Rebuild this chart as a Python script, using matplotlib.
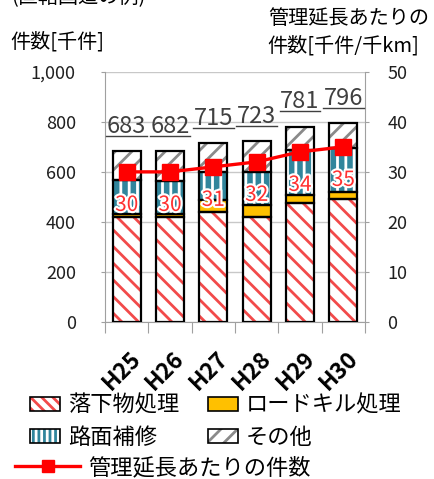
import matplotlib
matplotlib.use("Agg")
import matplotlib.pyplot as plt
import matplotlib.patheffects as pe
from matplotlib.patches import Patch
from matplotlib.lines import Line2D

plt.rcParams['font.family'] = ['Noto Sans CJK JP', 'DejaVu Sans']
plt.rcParams['hatch.linewidth'] = 2.0

# データ
years = ['H25', 'H26', 'H27', 'H28', 'H29', 'H30']
rakka = [420, 418, 440, 420, 477, 492]      # 落下物処理
roadkill = [12, 14, 48, 48, 31, 28]         # ロードキル処理
romen = [136, 132, 113, 132, 180, 176]      # 路面補修
sonota = [115, 118, 114, 123, 93, 100]      # その他
totals = [683, 682, 715, 723, 781, 796]
per_km = [30, 30, 31, 32, 34, 35]           # 管理延長あたりの件数

red_c = '#f24a4a'
yel_c = '#ffc000'
blu_c = '#31859c'
gry_c = '#8a8a8a'

fig = plt.figure(figsize=(4.34, 4.79), dpi=100)
ax = fig.add_axes([0.242, 0.328, 0.599, 0.522])
x = list(range(len(years)))
w = 0.65

# (値, 面の色, ハッチ色, ハッチ)
series = [
    (rakka, 'white', red_c, '\\\\'),
    (roadkill, yel_c, yel_c, ''),
    (romen, blu_c, 'white', '||'),
    (sonota, 'white', gry_c, '//'),
]
bottom = [0] * len(years)
for vals, face, hcol, hatch in series:
    ax.bar(x, vals, w, bottom=bottom, color=face, edgecolor=hcol, hatch=hatch,
           linewidth=0, zorder=2)
    ax.bar(x, vals, w, bottom=bottom, fill=False, edgecolor='black',
           linewidth=1.6, zorder=3)
    bottom = [b + v for b, v in zip(bottom, vals)]

# 合計ラベル（下線付き）
for i, t in enumerate(totals):
    ax.annotate(str(t), xy=(i, t + 61), xytext=(0, 3), textcoords='offset pixels',
                ha='center', va='baseline', fontsize=17, color='#404040', zorder=5)
    ax.plot([i - 0.47, i + 0.47], [t + 61] * 2, color='#404040', lw=1.0,
            zorder=5, clip_on=False)

ax.set_xlim(-0.5, 5.5)
ax.set_ylim(0, 1000)
ax.set_yticks(range(0, 1001, 200))
ax.set_yticklabels(['0', '200', '400', '600', '800', '1,000'], fontsize=13)
ax.tick_params(axis='y', length=3, pad=18, color='#a0a0a0', labelcolor='#202020')
ax.set_xticks([i - 0.5 for i in range(7)])
ax.set_xticklabels([])
ax.tick_params(axis='x', length=8, color='#a0a0a0')
ax.grid(axis='y', color='#c8c8c8', lw=1)
ax.set_axisbelow(True)
for s in ax.spines.values():
    s.set_color('#a0a0a0')
ax.spines['top'].set_visible(False)

for i, lab in enumerate(years):
    ax.annotate(lab, xy=(i, 0), xycoords=('data', 'axes fraction'),
                xytext=(3, -25), textcoords='offset pixels', rotation=45,
                ha='right', va='top', rotation_mode='anchor',
                fontsize=16.5, fontweight='bold', color='black')

ax2 = ax.twinx()
ax2.set_ylim(0, 50)
ax2.set_yticks(range(0, 51, 10))
ax2.tick_params(axis='y', length=3, pad=13, labelsize=13, color='#a0a0a0',
                labelcolor='#202020')
for s in ax2.spines.values():
    s.set_visible(False)
ax2.plot(x, per_km, color='#ff0000', lw=2.4, marker='s', markersize=11, zorder=4)
for i, v in enumerate(per_km):
    ax2.annotate(str(v), xy=(i, v), xytext=(0, -33), textcoords='offset pixels',
                 ha='center', va='center', fontsize=15, color='#ff3030', zorder=6,
                 path_effects=[pe.withStroke(linewidth=3, foreground='white')])

# タイトル類
fig.text(0.025, 1.0 + 2 / 479, '(直轄国道の例)', fontsize=14.5, ha='left', va='center')
fig.text(0.023, 1 - 42 / 479, '件数[千件]', fontsize=14.5, ha='left', va='center')
fig.text(0.617, 1 - 18 / 479, '管理延長あたりの', fontsize=14.5, ha='left', va='center')
fig.text(0.617, 1 - 46 / 479, '件数[千件/千km]', fontsize=14.5, ha='left', va='center')

# 凡例
def hatch_handle(face, hcol, hatch):
    return (Patch(facecolor=face, edgecolor=hcol, hatch=hatch, linewidth=0),
            Patch(fill=False, edgecolor='black', linewidth=1.2))

h_rakka = hatch_handle('white', red_c, '\\\\\\')
h_road = hatch_handle(yel_c, yel_c, '')
h_romen = hatch_handle(blu_c, 'white', '|||')
h_sono = hatch_handle('white', gry_c, '//')
leg1 = fig.legend([h_rakka, h_romen, h_road, h_sono],
                  ['落下物処理', '路面補修', 'ロードキル処理', 'その他'],
                  ncol=2, loc='upper left', bbox_to_anchor=(0.068, 1 - 394 / 479),
                  frameon=False, fontsize=16, handlelength=1.36, handleheight=0.6,
                  handletextpad=0.36, columnspacing=1.3, labelspacing=0.4,
                  borderpad=0, borderaxespad=0)
h_line = Line2D([], [], color='#ff0000', lw=2.4, marker='s', markersize=9)
fig.legend([h_line], ['管理延長あたりの件数'], loc='upper left',
           bbox_to_anchor=(0.034, 1 - 456 / 479), frameon=False, fontsize=16,
           handlelength=2.95, handletextpad=0.36, borderpad=0, borderaxespad=0)

fig.savefig('out.png', dpi=100)
